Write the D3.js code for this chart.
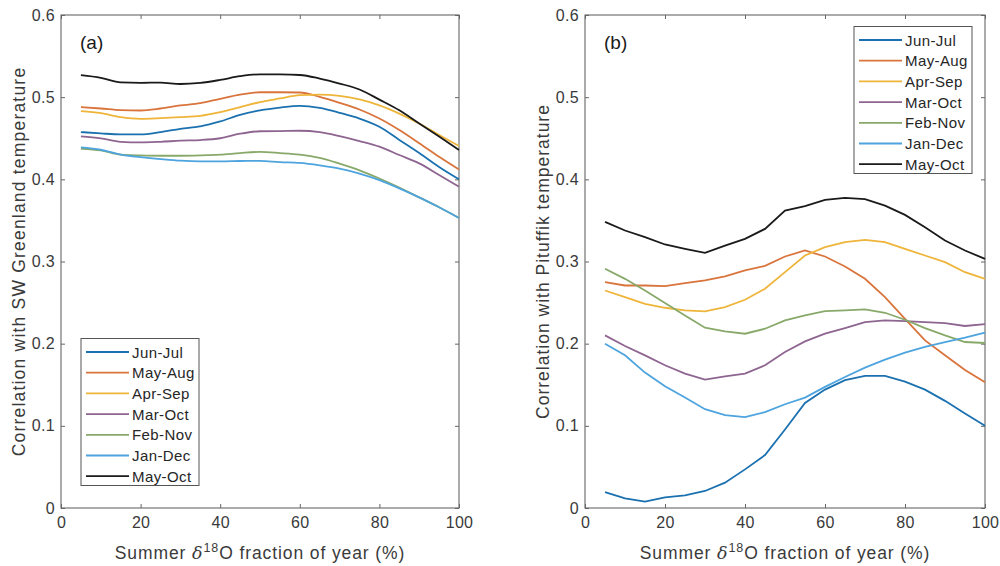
<!DOCTYPE html>
<html lang="en">
<head>
  <meta charset="UTF-8">
  <title>Summer d18O correlation</title>
  <script src="https://cdn.jsdelivr.net/npm/d3@7/dist/d3.min.js"></script>
  <style>
    body { margin: 0; background: #fff; }
    svg text { font-family: "Liberation Sans", Arial, sans-serif; }
  </style>
</head>
<body>
  <script>
    // x: summer fraction of year (%)
    const xVals = [5, 10, 15, 20, 25, 30, 35, 40, 45, 50, 55, 60, 65, 70, 75, 80, 85, 90, 95, 100]
    const seasons = ['Jun-Jul', 'May-Aug', 'Apr-Sep', 'Mar-Oct', 'Feb-Nov', 'Jan-Dec', 'May-Oct']
    const colors = ['#1b71b0', '#d9743c', '#eeb53a', '#8e6590', '#88a96a', '#4da4de', '#1a1a1a']

    const xTicks = [0, 20, 40, 60, 80, 100]
    const yTicks = [0, 0.1, 0.2, 0.3, 0.4, 0.5, 0.6]
    const yTickLabels = ['0', '0.1', '0.2', '0.3', '0.4', '0.5', '0.6']

    // (a) SW Greenland temperature
    const junJulA = [0.4575, 0.4559, 0.4547, 0.4547, 0.4575, 0.4615, 0.4644, 0.4704, 0.4785, 0.4840, 0.4874, 0.4895, 0.4870, 0.4810, 0.4740, 0.4640, 0.4480, 0.4320, 0.4150, 0.4000]
    const mayAugA = [0.4879, 0.4862, 0.4842, 0.4838, 0.4862, 0.4899, 0.4927, 0.4980, 0.5030, 0.5060, 0.5060, 0.5057, 0.5004, 0.4931, 0.4850, 0.4740, 0.4600, 0.4440, 0.4275, 0.4120]
    const aprSepA = [0.4830, 0.4806, 0.4757, 0.4737, 0.4745, 0.4757, 0.4773, 0.4818, 0.4879, 0.4940, 0.4984, 0.5024, 0.5032, 0.5016, 0.4972, 0.4900, 0.4800, 0.4680, 0.4540, 0.4405]
    const marOctA = [0.4522, 0.4498, 0.4457, 0.4449, 0.4457, 0.4470, 0.4478, 0.4500, 0.4555, 0.4585, 0.4587, 0.4591, 0.4575, 0.4526, 0.4466, 0.4397, 0.4296, 0.4194, 0.4053, 0.3910]
    const febNovA = [0.4372, 0.4352, 0.4300, 0.4291, 0.4287, 0.4287, 0.4291, 0.4300, 0.4320, 0.4334, 0.4320, 0.4300, 0.4260, 0.4190, 0.4110, 0.4010, 0.3900, 0.3780, 0.3660, 0.3530]
    const janDecA = [0.4389, 0.4360, 0.4300, 0.4271, 0.4247, 0.4227, 0.4219, 0.4219, 0.4223, 0.4225, 0.4210, 0.4200, 0.4170, 0.4130, 0.4070, 0.3990, 0.3890, 0.3780, 0.3660, 0.3530]
    const mayOctA = [0.5267, 0.5235, 0.5180, 0.5174, 0.5178, 0.5160, 0.5174, 0.5210, 0.5255, 0.5278, 0.5277, 0.5270, 0.5227, 0.5166, 0.5093, 0.4970, 0.4840, 0.4680, 0.4520, 0.4356]

    // (b) Pituffik temperature
    const junJulB = [0.0194, 0.0117, 0.0077, 0.0130, 0.0154, 0.0207, 0.0308, 0.0470, 0.0644, 0.0955, 0.1279, 0.1441, 0.1555, 0.1607, 0.1607, 0.1538, 0.1441, 0.1304, 0.1150, 0.1000]
    const mayAugB = [0.2749, 0.2708, 0.2708, 0.2700, 0.2737, 0.2769, 0.2818, 0.2891, 0.2947, 0.3061, 0.3134, 0.3061, 0.2940, 0.2790, 0.2566, 0.2303, 0.2040, 0.1860, 0.1680, 0.1530]
    const aprSepB = [0.2647, 0.2566, 0.2485, 0.2437, 0.2404, 0.2392, 0.2445, 0.2534, 0.2668, 0.2870, 0.3073, 0.3174, 0.3235, 0.3263, 0.3235, 0.3154, 0.3073, 0.2992, 0.2870, 0.2789]
    const marOctB = [0.2101, 0.1972, 0.1858, 0.1737, 0.1636, 0.1563, 0.1603, 0.1636, 0.1737, 0.1899, 0.2028, 0.2121, 0.2190, 0.2263, 0.2283, 0.2275, 0.2263, 0.2251, 0.2215, 0.2239]
    const febNovB = [0.2911, 0.2789, 0.2647, 0.2494, 0.2344, 0.2194, 0.2150, 0.2121, 0.2182, 0.2283, 0.2344, 0.2396, 0.2404, 0.2417, 0.2376, 0.2291, 0.2190, 0.2100, 0.2020, 0.2008]
    const janDecB = [0.2000, 0.1858, 0.1648, 0.1482, 0.1344, 0.1202, 0.1130, 0.1105, 0.1166, 0.1263, 0.1344, 0.1474, 0.1595, 0.1709, 0.1806, 0.1891, 0.1960, 0.2020, 0.2073, 0.2134]
    const mayOctB = [0.3482, 0.3377, 0.3296, 0.3207, 0.3154, 0.3105, 0.3194, 0.3276, 0.3397, 0.3620, 0.3673, 0.3750, 0.3774, 0.3758, 0.3680, 0.3567, 0.3417, 0.3255, 0.3134, 0.3032]

    const svg = d3.select('body')
      .append('svg')
      .attr('width', 1000)
      .attr('height', 566)

    const yScale = d3.scaleLinear().domain([0, 0.6]).range([508, 15])

    function drawPanel(cfg) {
      const x = d3.scaleLinear().domain([0, 100]).range([cfg.left, cfg.right])
      const g = svg.append('g')

      // 轴
      const xAxis = d3.axisBottom(x).tickValues(xTicks).tickSize(-4).tickPadding(9)
      const yAxis = d3.axisLeft(yScale).tickValues(yTicks)
        .tickFormat((d, i) => yTickLabels[i]).tickSize(-4).tickPadding(6)

      g.append('g').attr('transform', 'translate(0,508)').call(xAxis)
      g.append('g').attr('transform', 'translate(0,15)')
        .call(d3.axisTop(x).tickValues(xTicks).tickSize(-4).tickFormat(''))
      g.append('g').attr('transform', `translate(${cfg.left},0)`).call(yAxis)
      g.append('g').attr('transform', `translate(${cfg.right},0)`)
        .call(d3.axisRight(yScale).tickValues(yTicks).tickSize(-4).tickFormat(''))

      g.selectAll('.domain').remove()
      g.selectAll('.tick line').attr('stroke', '#666')
      g.selectAll('.tick text').attr('fill', '#3a3a3a').attr('font-size', 16)
        .attr('letter-spacing', 0.3)

      g.append('rect')
        .attr('x', cfg.left).attr('y', 15)
        .attr('width', cfg.right - cfg.left).attr('height', 493)
        .attr('fill', 'none').attr('stroke', '#666').attr('stroke-width', 1.1)

      // 曲线
      const line = d3.line()
        .x((d, i) => x(xVals[i]))
        .y(d => yScale(d))
        .curve(cfg.curve)

      cfg.series.forEach((s, k) => {
        g.append('path')
          .attr('d', line(s))
          .attr('fill', 'none')
          .attr('stroke', colors[k])
          .attr('stroke-width', 1.8)
      })

      // 标签
      g.append('text')
        .attr('x', cfg.left + 19).attr('y', 49)
        .attr('font-size', 19).attr('fill', '#1a1a1a')
        .text(cfg.tag)

      const xl = g.append('text')
        .attr('x', (cfg.left + cfg.right) / 2).attr('y', 559)
        .attr('text-anchor', 'middle')
        .attr('font-size', 17.5).attr('letter-spacing', 0.9).attr('fill', '#3a3a3a')
      xl.append('tspan').text('Summer ')
      xl.append('tspan').attr('font-style', 'italic').attr('font-family', 'DejaVu Serif, serif').text('δ')
      xl.append('tspan').attr('dy', -7).attr('font-size', 12.5).text('18')
      xl.append('tspan').attr('dy', 7).text('O fraction of year (%)')

      g.append('text')
        .attr('transform', `translate(${cfg.left - 36},261.5) rotate(-90)`)
        .attr('text-anchor', 'middle')
        .attr('font-size', 17.5).attr('letter-spacing', cfg.ySpacing).attr('fill', '#3a3a3a')
        .text(cfg.ylabel)

      // 图例
      const lg = g.append('g')
      lg.append('rect')
        .attr('x', cfg.legX).attr('y', cfg.legY)
        .attr('width', 118).attr('height', 147)
        .attr('fill', '#fff').attr('stroke', '#555').attr('stroke-width', 1)
      seasons.forEach((name, k) => {
        const yy = cfg.legY + 13.5 + k * 20.7
        lg.append('line')
          .attr('x1', cfg.legX + 5).attr('x2', cfg.legX + 48)
          .attr('y1', yy).attr('y2', yy)
          .attr('stroke', colors[k]).attr('stroke-width', 1.8)
        lg.append('text')
          .attr('x', cfg.legX + 51).attr('y', yy + 5.5)
          .attr('font-size', 15).attr('letter-spacing', 0.4).attr('fill', '#262626')
          .text(name)
      })
    }

    drawPanel({
      left: 61, right: 459, tag: '(a)',
      ylabel: 'Correlation with SW Greenland temperature',
      ySpacing: 1.2,
      series: [junJulA, mayAugA, aprSepA, marOctA, febNovA, janDecA, mayOctA],
      curve: d3.curveMonotoneX,
      legX: 81, legY: 338.5
    })

    drawPanel({
      left: 585, right: 985, tag: '(b)',
      ylabel: 'Correlation with Pituffik temperature',
      ySpacing: 1.0,
      series: [junJulB, mayAugB, aprSepB, marOctB, febNovB, janDecB, mayOctB],
      curve: d3.curveLinear,
      legX: 854, legY: 26.5
    })
  </script>
</body>
</html>
